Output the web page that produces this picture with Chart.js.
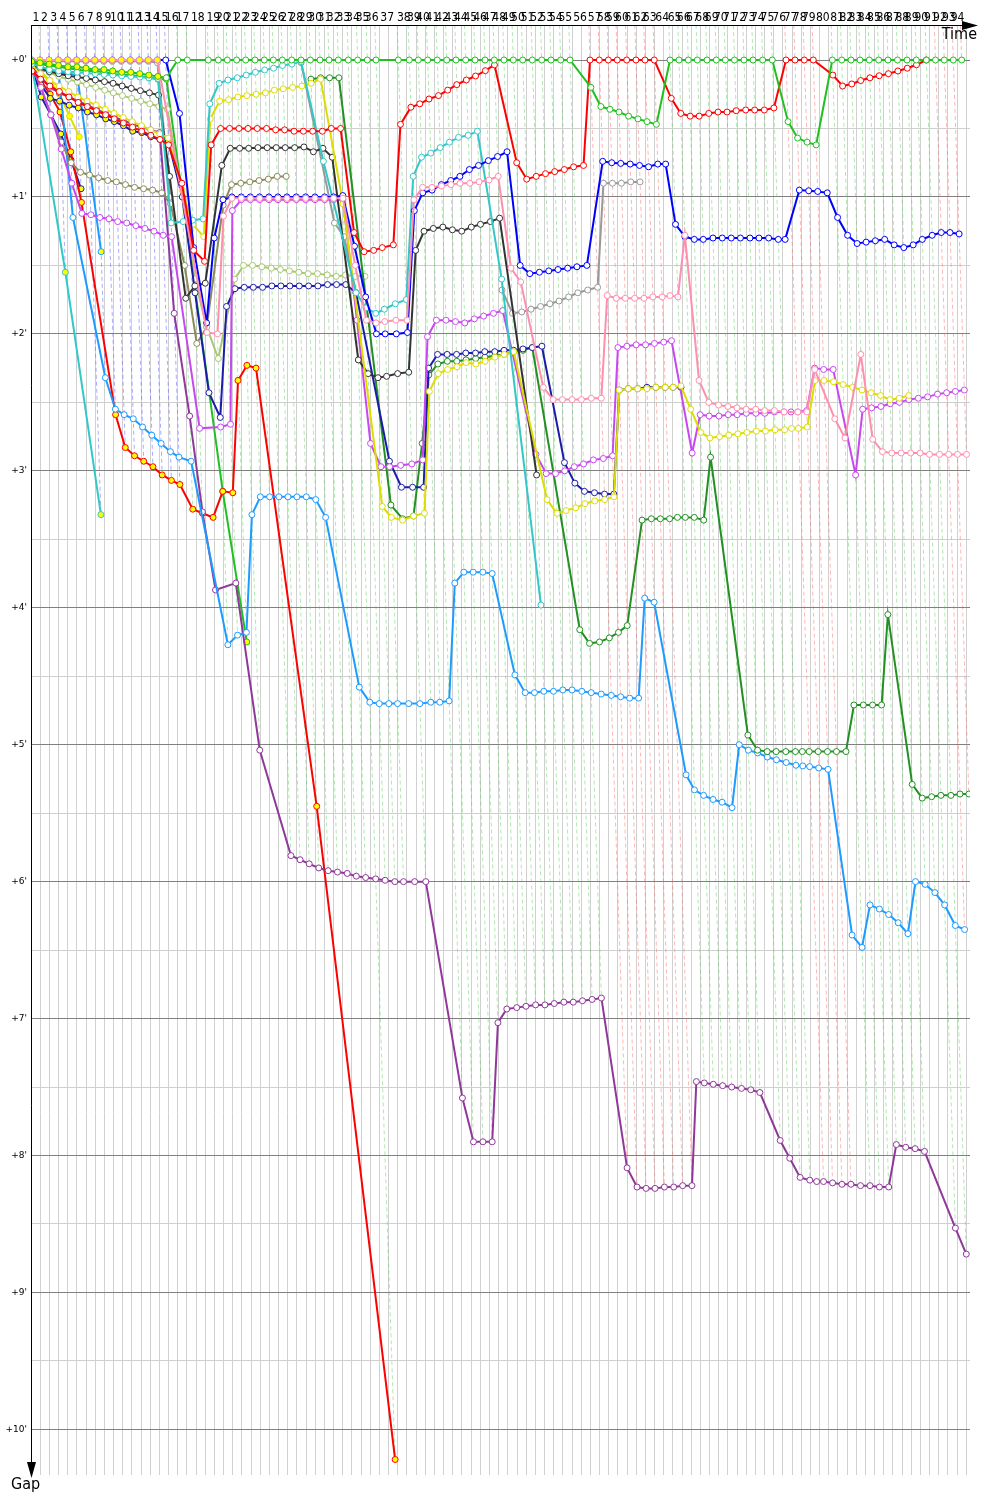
<!DOCTYPE html>
<html>
<head>
<meta charset="utf-8">
<script src="https://cdn.jsdelivr.net/npm/chart.js@4.4.1/dist/chart.umd.min.js"></script>
<style>
  html, body { margin: 0; padding: 0; background: #fff; }
  #wrap { width: 1000px; height: 1500px; }
</style>
</head>
<body>
<div id="wrap"><canvas id="gapChart" width="1000" height="1500"></canvas></div>
<script>
// leader crossing time of each lap, in minutes (index = lap, 0 = start)
const lapTimes = [0.15, 1.96, 3.93, 5.95, 8.00, 9.97, 11.93, 13.89, 15.86, 17.73,
  19.69, 21.66, 23.62, 25.58, 27.55, 29.38, 32.00, 34.09, 38.67, 40.85,
  42.81, 44.86, 46.83, 48.85, 50.88, 52.85, 54.81, 56.86, 58.89, 60.92,
  63.03, 64.99, 67.02, 69.20, 71.25, 73.35, 75.25, 80.11, 82.51, 84.47,
  86.52, 88.61, 90.67, 92.69, 94.81, 96.84, 99.02, 101.05, 103.16, 105.19,
  107.24, 109.34, 111.39, 113.41, 115.53, 117.56, 121.92, 123.95, 125.91, 127.87,
  129.92, 131.95, 133.91, 135.94, 139.37, 141.33, 143.36, 145.32, 147.44, 149.47,
  151.43, 153.43, 155.51, 157.47, 159.58, 161.68, 164.67, 166.63, 168.66, 170.62,
  174.77, 176.82, 178.84, 180.81, 182.84, 184.88, 186.91, 188.99, 191.06, 193.09,
  195.27, 197.27, 199.19, 201.16, 202.99];

const blueLaps = [2, 3, 4, 5, 6, 7, 8, 9, 10, 11, 12, 13, 14, 15];
const redLaps = [56, 57, 58, 59, 60, 61, 62, 63, 76, 77, 78, 79, 91, 92, 93, 94];

const gapTicks = [0, 0.5, 1, 1.5, 2, 2.5, 3, 3.5, 4, 4.5, 5, 5.5, 6, 6.5, 7, 7.5, 8, 8.5, 9, 9.5, 10];
const timeTicks = [];
for (let t = 0; t <= 204; t += 2) timeTicks.push(t);

// gaps to the leader (minutes), one per lap from the car's first lap;
// extra points fall in the middle of the long laps
const greenGaps = [0.01, 0.02, 0.03, 0.04, 0.05, 0.05, 0.06, 0.07, 0.07, 0.08, 0.09, 0.09, 0.10, 0.11, 0.12, 0.13,
  0, 0, 0, 0, 0, 0, 0, 0, 0, 0, 0, 0, 0, 0, 0, 0, 0, 0, 0, 0,
  0, 0, 0, 0, 0, 0, 0, 0, 0, 0, 0, 0, 0, 0, 0, 0, 0, 0, 0, 0,
  0.20, 0.34, 0.36, 0.38, 0.41, 0.43, 0.45, 0.47,
  0, 0, 0, 0, 0, 0, 0, 0, 0, 0, 0, 0,
  0.45, 0.57, 0.60, 0.62,
  0, 0, 0, 0, 0, 0, 0, 0, 0, 0, 0, 0, 0, 0, 0];

const redGaps = [0.08, 0.14, 0.19, 0.23, 0.27, 0.31, 0.34, 0.37, 0.40, 0.43, 0.46, 0.49, 0.52, 0.55, 0.58, 0.62, 0.9,
  1.39, 0.62, 0.5,
  0.5, 0.5, 0.5, 0.5, 0.5, 0.51, 0.51, 0.52, 0.52, 0.52, 0.52, 0.5, 0.5,
  1.26, 1.40, 1.39, 1.37,
  0.47, 0.345, 0.32, 0.285, 0.26, 0.22, 0.18, 0.146, 0.117, 0.078, 0.036,
  null, 0.75, 0.87, 0.85, 0.83, 0.815, 0.80, 0.78,
  0, 0, 0, 0, 0, 0, 0, 0,
  0.28, 0.39, 0.41, 0.41, 0.39, 0.38, 0.38, 0.37, 0.365, 0.365, 0.365, 0.35,
  0, 0, 0, 0,
  0.11, 0.19, 0.175, 0.15, 0.13, 0.115, 0.10, 0.08, 0.06, 0.035, 0.0];
const redExtra = [[17.5, 1.47], [36.5, 1.35], [55.5, 0.77]];

const blueGaps = [0, 0, 0, 0, 0, 0, 0, 0, 0, 0, 0, 0, 0, 0, 0, 0,
  0.39, 1.37, 1.3, 1.02,
  1.0, 1.0, 1.0, 1.0, 1.0, 1.0, 1.0, 1.0, 1.0, 1.0, 1.0, 1.0,
  0.99, 1.36, 1.73, 2.0, 2.0, 1.99,
  1.1, 0.97, 0.95, 0.91, 0.88, 0.85, 0.80, 0.77, 0.735, 0.705, 0.67,
  1.5, 1.56, 1.55, 1.54, 1.53, 1.52, 1.51,
  null, 0.74, 0.75, 0.755, 0.76, 0.77, 0.78, 0.76,
  1.2, 1.29, 1.31, 1.31, 1.30, 1.30, 1.30, 1.30, 1.30, 1.30, 1.30, 1.31,
  null, 0.95, 0.955, 0.96,
  1.15, 1.28, 1.34, 1.33, 1.32, 1.31, 1.35, 1.37, 1.35, 1.31, 1.28, 1.26, 1.26, 1.27];
const blueExtra = [[17.5, 1.92], [36.5, 2.0], [55.5, 1.5], [63.5, 0.76], [75.5, 1.31], [79.5, 0.97]];

const pinkGaps = [0, 0, 0, 0, 0, 0, 0, 0, 0, 0, 0, 0, 0, 0, 0,
  null, null, null, 2.0, 1.14,
  1.01, 1.01, 1.01, 1.01, 1.01, 1.01, 1.01, 1.01, 1.01, 1.01, 1.01, 1.01, 1.01,
  1.5, 1.9, 1.92, 1.91, 1.9,
  1.02, 0.93, 0.93, 0.92, 0.91, 0.90, 0.90, 0.89, 0.876, 0.85,
  1.52, 1.62, null, 2.39, 2.48, 2.48, 2.48, 2.48, 2.47,
  1.72, 1.74, 1.74, 1.74, 1.74, 1.73, 1.73,
  1.73, 1.28, 2.34, 2.5, 2.52, 2.53, 2.54, 2.55, 2.55, 2.56, 2.56, 2.57, 2.57, 2.57,
  2.26, null,
  2.76, null, 2.15, 2.77, 2.86, 2.87, 2.87, 2.87, 2.87, 2.88, 2.88, 2.88, 2.88, 2.88];
const pinkExtra = [[17.5, 1.99], [36.5, 1.9], [55.5, 2.47], [63.5, 1.72], [79.5, 2.62]];

const blackGaps = [0.03, 0.06, 0.085, 0.10, 0.115, 0.125, 0.134, 0.146, 0.158, 0.17, 0.19, 0.207, 0.224, 0.24, 0.256,
  0.85, 1.74, 1.65, null, 0.77,
  0.645, 0.645, 0.645, 0.64, 0.64, 0.64, 0.64, 0.64, 0.635, 0.67, 0.645, 0.71, null,
  2.19, 2.29, 2.32, 2.31,
  2.28, 1.39, 1.25, 1.23, 1.22, 1.24, 1.25, 1.22, 1.2, 1.18, 1.155,
  null, null, 3.03];
const blackExtra = [[17.5, 1.63], [36.5, 2.29]];

const cyanGaps = [0.03, 0.05, 0.07, 0.08, 0.085, 0.09, 0.095, 0.10, 0.105, 0.11, 0.115, 0.12, 0.125, 0.13, 0.135,
  1.19, 1.18, 1.17,
  0.32, 0.17, 0.146, 0.13, 0.11, 0.09, 0.073, 0.06, 0.04, 0.03, 0.012,
  null, 0.74, null, null, 1.7, 1.81, 1.85, 1.82,
  1.75, 0.85, 0.71, 0.68, 0.64, 0.6, 0.565, 0.55, 0.52,
  null, 1.6, null, null, 3.98];
const cyanExtra = [[17.5, 1.16], [36.5, 1.78]];

const yellowGaps = [0.04, 0.1, 0.15, 0.19, 0.23, 0.27, 0.3, 0.33, 0.36, 0.39, 0.42, 0.45, 0.48, 0.51, 0.54, 0.57,
  0.95, 1.2,
  0.43, 0.30, 0.29, 0.27, 0.26, 0.25, 0.24, 0.22, 0.21, 0.20, 0.19, 0.17, 0.14,
  null, 1.05, null, null, 3.26, 3.34,
  3.33, 3.31, 2.42, 2.29, 2.26, 2.24, 2.21, 2.22, 2.2, 2.17, 2.15, 2.13,
  null, null, 3.21, 3.31, 3.29, 3.27, 3.24,
  3.21, 3.19, 2.41, 2.40, 2.40, 2.40, 2.39, 2.39,
  2.38, 2.55, 2.72, 2.76, 2.75, 2.74, 2.73, 2.72, 2.71, 2.71, 2.70, 2.70,
  2.69, 2.68, 2.34, 2.34,
  2.37, 2.39, 2.41, 2.43, 2.45, 2.48, 2.47, 2.45];
const yellowExtra = [[17.5, 1.29], [36.5, 3.36], [55.5, 3.22], [63.5, 2.39], [75.5, 2.69], [79.5, 2.35]];

const darkGreenGaps = [0.14, 0.13, 0.13, 0.13, null, null, null, 3.25,
  3.33, 2.8, 2.3, 2.22, 2.2, 2.2, 2.19, 2.18, 2.17, 2.16, 2.15, 2.13, 2.12, 2.1,
  null, null, null, 4.16, 4.26,
  4.22, 4.18, 4.13, null, 3.36, 3.35, 3.35, 3.35,
  3.34, 3.34, 3.36, 2.9, null, null, 4.93, 5.04, 5.05, 5.05, 5.05, 5.05,
  5.05, 5.05, 5.05, 5.05,
  4.71, 4.71, 4.71, 4.71, 4.05, null, 5.29, 5.39, 5.38, 5.37, 5.37, 5.36, 5.36];
const darkGreenExtra = [[36.5, 3.35], [55.5, 4.25], [63.5, 3.34], [75.5, 5.05], [79.5, 5.05]];

const violetGaps = [0.05, 0.2, 0.4, 0.65, 0.9,
  1.12, 1.13, 1.15, 1.16, 1.18, 1.19, 1.21, 1.23, 1.25, 1.28, 1.29,
  null, 2.69, 2.68, 2.66, 1.1,
  1.02, 1.02, 1.02, 1.02, 1.02, 1.02, 1.02, 1.02, 1.02, 1.02, 1.02, 1.02,
  1.9, 2.8, 2.97, 2.97, 2.95, 2.92, 2.02,
  1.9, 1.9, 1.91, 1.92, 1.89, 1.87, 1.85, 1.83,
  null, null, 2.88, 3.02, 3.02, 3.0, 2.97, 2.95,
  2.91, 2.89, 2.1, 2.09, 2.08, 2.08, 2.07, 2.06,
  null, 2.87, 2.59, 2.6, 2.6, 2.59, 2.59, 2.58, 2.58, 2.58, 2.57, 2.57, 2.57, 2.56,
  2.25, 2.26, null,
  3.03, 2.55, 2.54, 2.53, 2.51, 2.5, 2.48, 2.47, 2.46, 2.44, 2.43, 2.42, 2.41];
const violetExtra = [[36.5, 2.96], [55.5, 2.92], [63.5, 2.05], [75.5, 2.57], [79.5, 2.26]];

const navyGaps = [0.06, 0.18, 0.28, 0.30, 0.33, 0.35, 0.38, 0.40, 0.43, 0.45, 0.48, 0.52, 0.53, 0.56, 0.58, 0.60,
  1.0, 1.7, 2.61, 1.8,
  1.67, 1.66, 1.66, 1.66, 1.65, 1.65, 1.65, 1.65, 1.65, 1.65, 1.64, 1.64, 1.64,
  1.70, null, null, 2.93, 3.12, 3.12, 2.25,
  2.15, 2.15, 2.15, 2.14, 2.14, 2.13, 2.13, 2.12, 2.12, 2.11, 2.10, 2.09,
  null, 2.94, 3.09, 3.15, 3.17, 3.17,
  2.41, 2.40, 2.40, 2.39, 2.39, 2.39, 2.39];
const navyExtra = [[17.5, 2.43], [36.5, 3.12], [55.5, 3.16], [63.5, 2.39]];

const limeGaps = [0.03, 0.06, 0.09, 0.12, 0.14, 0.16, 0.18, 0.2, 0.22, 0.24, 0.26, 0.28, 0.3, 0.32, 0.34, 0.36,
  1.0, 1.6, 2.18, null,
  1.6, 1.5, 1.5, 1.51, 1.52, 1.53, 1.54, 1.55, 1.56, 1.56, 1.57, 1.58, 1.57, 1.58, 1.58];
const limeExtra = [[17.5, 1.95]];

const grayGaps = [0.01, 0.01, 0.01, 0.01, 0.01, 0.01, 0.01, 0.01, 0.01, 0.01, 0.01, 0.01, 0.01, 0.01, 0.02, 1.0];
const grayMidGaps = [0.02, null, null, 1.19, 1.29, 1.7];
const grayLateGaps = [1.68, 1.85, 1.84, 1.82, 1.80, 1.78, 1.76, 1.73, 1.70, 1.66, 0.9, 0.9, 0.9, 0.89, 0.89];
const grayLateExtra = [[55.5, 1.68]];

const skyGaps = [0.04, 0.07, 0.09, 0.1, 1.15, null, null, 2.32,
  2.55, 2.59, 2.62, 2.68, 2.74, 2.80, 2.86, 2.90, 2.93, null,
  4.27, 4.2, 4.18, 3.32, 3.19, 3.19, 3.19, 3.19, 3.19, 3.19, 3.21, 3.34, null, null,
  4.58, 4.69, 4.70, 4.70, 4.70,
  4.70, 4.69, 4.69, 4.68, 3.82, 3.74, 3.74, 3.74, 3.75, null,
  4.49, 4.62, 4.62, 4.61, 4.61, 4.60, 4.60, 4.61, 4.62,
  4.64, 4.65, 4.66, 4.66, 3.93, 3.96, null, null,
  5.33, 5.37, 5.40, 5.42, 5.46, 5.00, 5.04, 5.06, 5.09, 5.11, 5.13, 5.15, 5.16, 5.17, 5.18, null,
  6.48, 6.17, 6.20, 6.24, 6.30, 6.38, 6.0, 6.02, 6.08, 6.17, 6.32, 6.35];
const skyExtra = [[36.5, 4.70], [55.5, 4.63], [63.5, 5.22], [75.5, 5.155], [79.5, 6.39]];

const purpleGaps = [0.05, 0.12, 0.2, 0.24, 0.27, 0.3, 0.33, 0.36, 0.39, 0.42, 0.44, 0.47, 0.49, 0.51, 0.53,
  1.85, 2.6, 3.3, null, 3.82, null, 5.04, null, null,
  5.81, 5.84, 5.87, 5.90, 5.92, 5.93, 5.94, 5.96, 5.97, 5.98, 5.99, 6.0, 6.0,
  6.0, null, null, 7.58, 7.90, 7.90, 7.90,
  7.03, 6.93, 6.92, 6.91, 6.90, 6.90, 6.89, 6.88, 6.88, 6.87, 6.86, 6.85,
  8.09, 8.23, 8.24, 8.24, 8.23, 8.23, 8.22, 8.22,
  7.47, 7.48, 7.49, 7.50, 7.51, 7.52, 7.54, null, 7.89, 8.02, 8.16, 8.18,
  8.19, 8.20, 8.21, 8.21,
  8.22, 8.23, 8.23, 7.92, 7.94, 7.95, 7.97, null, null, 8.53, 8.72];
const purpleExtra = [[17.5, 3.87], [36.5, 6.0], [63.5, 7.46], [75.5, 8.19], [79.5, 8.22]];

const redYellowGaps = [0.08, 0.15, 0.25, 0.38, 0.67, 1.04, null, null,
  2.59, 2.83, 2.89, 2.93, 2.97, 3.03, 3.07, 3.10, 3.28, 3.31,
  3.15, 3.16, 2.34, 2.23, 2.25, null, null, null, null, 5.45, null, null, null, null, null, 10.22];
const redYellowExtra = [[17.5, 3.34]];

const oliveGaps = [0.04, 0.2, 0.4, 0.6, 0.75,
  0.82, 0.84, 0.86, 0.88, 0.89, 0.91, 0.93, 0.94, 0.95, 0.97,
  1.05, 1.5, 2.07, null, 1.06, 0.91, 0.9, 0.89, 0.88, 0.87, 0.85, 0.85];
const oliveExtra = [[17.5, 1.95]];

const greenYellowGaps = [0.02, 0.03, 0.04, 0.05, 0.06, 0.07, 0.08, 0.08, 0.09, 0.10, 0.11, 0.11, 0.12, 0.13, 0.14,
  0.14, null, null, 3.15, null, 4.25];
const cyanYellowGaps = [0.04, null, null, 1.55, null, null, 3.32];
const skyYellowGaps = [0.03, 0.05, 0.07, 0.09, 0.1, 0.11, null, 1.40];
const yellowYellowGaps = [0.03, 0.08, 0.15, 0.25, 0.41, 0.56];
const navyYellowGaps = [0.05, 0.27, 0.40, 0.54, 0.73, 0.94];

// yellowTo: last lap drawn with a yellow marker
const cars = [
  { colour: '#20c020', start: 0, gaps: greenGaps, yellowTo: 14 },
  { colour: '#ff0000', start: 0, gaps: redGaps, extra: redExtra },
  { colour: '#ff8fae', start: 0, gaps: pinkGaps, extra: pinkExtra, yellowTo: 14 },
  { colour: '#0000ff', start: 0, gaps: blueGaps, extra: blueExtra },
  { colour: '#33c8c8', start: 0, gaps: cyanGaps, extra: cyanExtra },
  { colour: '#dddd00', start: 0, gaps: yellowGaps, extra: yellowExtra },
  { colour: '#333333', start: 0, gaps: blackGaps, extra: blackExtra },
  { colour: '#c848f0', start: 0, gaps: violetGaps, extra: violetExtra },
  { colour: '#1c1caa', start: 0, gaps: navyGaps, extra: navyExtra, yellowTo: 15 },
  { colour: '#239023', start: 29, gaps: darkGreenGaps, extra: darkGreenExtra },
  { colour: '#a8c870', start: 0, gaps: limeGaps, extra: limeExtra },
  { colour: '#999999', start: 0, gaps: grayGaps },
  { colour: '#999999', start: 28, gaps: grayMidGaps },
  { colour: '#999999', start: 47, gaps: grayLateGaps, extra: grayLateExtra },
  { colour: '#8a8a5a', start: 0, gaps: oliveGaps, extra: oliveExtra },
  { colour: '#1e9bff', start: 0, gaps: skyGaps, extra: skyExtra },
  { colour: '#90389a', start: 0, gaps: purpleGaps, extra: purpleExtra },
  { colour: '#ff0000', start: 0, gaps: redYellowGaps, extra: redYellowExtra, yellowTo: 99 },
  { colour: '#20c020', start: 0, gaps: greenYellowGaps, yellowTo: 99 },
  { colour: '#33c8c8', start: 0, gaps: cyanYellowGaps, yellowTo: 99 },
  { colour: '#1e9bff', start: 0, gaps: skyYellowGaps, yellowTo: 99 },
  { colour: '#dddd00', start: 0, gaps: yellowYellowGaps, yellowTo: 99 },
  { colour: '#1c1caa', start: 0, gaps: navyYellowGaps, yellowTo: 99 }
];

const yMin = -0.2556, yMax = 10.333;

function lapTime(lap) {
  const n = Math.floor(lap);
  return lap === n ? lapTimes[n] : (lapTimes[n] + lapTimes[n + 1]) / 2;
}

// biggest gap on each lap: the lap line runs down to it
const lapDepth = lapTimes.map(() => 0);
const carSets = cars.map((car, k) => {
  const pts = [];
  car.gaps.forEach((g, i) => { if (g !== null) pts.push([car.start + i, g]); });
  (car.extra || []).forEach(e => pts.push(e));
  pts.sort((a, b) => a[0] - b[0]);
  pts.forEach(([lap, g]) => {
    if (Number.isInteger(lap) && g > lapDepth[lap]) lapDepth[lap] = g;
  });
  const yellowTo = car.yellowTo === undefined ? -1 : car.yellowTo;
  return {
    data: pts.map(([lap, g]) => ({ x: lapTime(lap) + g, y: g })),
    borderColor: car.colour,
    borderWidth: 2,
    pointRadius: 3,
    pointBorderWidth: 1,
    pointBorderColor: car.colour,
    pointBackgroundColor: pts.map(([lap]) => lap <= yellowTo ? '#ffff00' : '#ffffff'),
    order: k
  };
});

const lapLineSets = [];
for (let n = 1; n < lapTimes.length; n++) {
  let col = 'rgba(70,200,70,0.42)';
  if (blueLaps.includes(n)) col = 'rgba(90,90,255,0.5)';
  if (redLaps.includes(n)) col = 'rgba(255,80,80,0.42)';
  lapLineSets.push({
    data: [{ x: lapTimes[n] + yMin, y: yMin }, { x: lapTimes[n] + lapDepth[n], y: lapDepth[n] }],
    borderColor: col,
    borderWidth: 1,
    borderDash: [4, 3],
    pointRadius: 0,
    order: 100
  });
}

const frame = {
  id: 'frame',
  afterDraw(chart) {
    const { ctx, chartArea: a, scales } = chart;
    ctx.save();
    ctx.strokeStyle = '#000';
    ctx.fillStyle = '#000';
    ctx.lineWidth = 1;
    ctx.beginPath();
    ctx.moveTo(a.left, a.top + 0.5);
    ctx.lineTo(966, a.top + 0.5);
    ctx.moveTo(a.left + 0.5, a.top);
    ctx.lineTo(a.left + 0.5, 1466);
    ctx.stroke();
    ctx.beginPath();
    ctx.moveTo(978, a.top + 0.5); ctx.lineTo(962, a.top - 4); ctx.lineTo(962, a.top + 5); ctx.closePath();
    ctx.moveTo(a.left + 0.5, 1478); ctx.lineTo(a.left - 4, 1462); ctx.lineTo(a.left + 5, 1462); ctx.closePath();
    ctx.fill();
    ctx.font = '16px "DejaVu Sans Condensed", "DejaVu Sans", sans-serif';
    ctx.textAlign = 'right';
    ctx.textBaseline = 'top';
    ctx.fillText('Time', 977, 27);
    ctx.textAlign = 'left';
    ctx.fillText('Gap', 11, 1477);
    ctx.font = '9px "DejaVu Sans", sans-serif';
    ctx.textAlign = 'right';
    ctx.textBaseline = 'middle';
    for (let m = 0; m <= 10; m++) {
      ctx.fillText('+' + m + "'", a.left - 4, scales.y.getPixelForValue(m));
    }
    // lap numbers sit over the middle of each lap
    ctx.font = '12px "DejaVu Sans Condensed", "DejaVu Sans", sans-serif';
    ctx.textAlign = 'center';
    ctx.textBaseline = 'alphabetic';
    for (let n = 1; n < lapTimes.length; n++) {
      const x = (scales.x.getPixelForValue(lapTimes[n - 1]) + scales.x.getPixelForValue(lapTimes[n])) / 2;
      ctx.fillText(String(n), x, 21);
    }
    ctx.restore();
  }
};

new Chart(document.getElementById('gapChart'), {
  type: 'line',
  data: { datasets: carSets.concat(lapLineSets) },
  options: {
    responsive: false,
    animation: false,
    layout: { padding: { left: 31, right: 30, top: 25, bottom: 25 } },
    plugins: { legend: { display: false }, tooltip: { enabled: false } },
    elements: { line: { tension: 0 } },
    scales: {
      x: {
        type: 'linear',
        min: 0,
        max: 204.8,
        afterBuildTicks: axis => { axis.ticks = timeTicks.map(v => ({ value: v })); },
        ticks: { display: false },
        grid: { color: '#d0d0d0', drawTicks: false },
        border: { display: false }
      },
      y: {
        type: 'linear',
        reverse: true,
        min: yMin,
        max: yMax,
        afterBuildTicks: axis => { axis.ticks = gapTicks.map(v => ({ value: v })); },
        ticks: { display: false },
        grid: {
          drawTicks: false,
          color: c => (c.tick && Number.isInteger(c.tick.value)) ? '#808080' : '#cfcfcf'
        },
        border: { display: false }
      }
    }
  },
  plugins: [frame]
});
</script>
</body>
</html>
